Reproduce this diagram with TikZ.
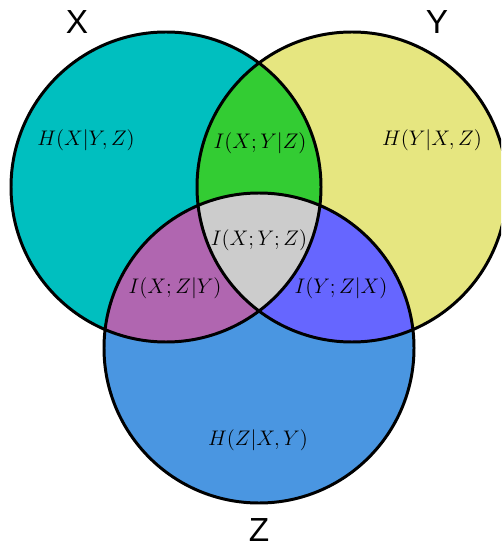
\documentclass[tikz,border=0pt]{standalone}
\usepackage{fontspec}
\setsansfont{Liberation Sans}
\usepackage{tikz}

\definecolor{onlyX}{RGB}{0,191,191}
\definecolor{onlyY}{RGB}{230,230,128}
\definecolor{onlyZ}{RGB}{74,150,225}
\definecolor{XandY}{RGB}{51,204,51}
\definecolor{XandZ}{RGB}{176,102,176}
\definecolor{YandZ}{RGB}{102,102,255}
\definecolor{allXYZ}{RGB}{204,204,204}

\tikzset{
  setlabel/.style={font=\fontsize{19}{22}\selectfont\sffamily},
  infolabel/.style={font=\large},
  outline/.style={draw=black,line width=1.7pt}
}

\begin{document}
\begin{tikzpicture}[x=0.02cm,y=-0.02cm]
    \useasboundingbox (0,0) rectangle (501,550);
    \clip (0,0) rectangle (501,550);
    \def\rad{155}
    \coordinate (cx) at (166,187);
    \coordinate (cy) at (352,187);
    \coordinate (cz) at (259,348);

    % one colour per circle first
    \fill[onlyX] (cx) circle[radius=\rad];
    \fill[onlyY] (cy) circle[radius=\rad];
    \fill[onlyZ] (cz) circle[radius=\rad];

    % pairwise overlaps
    \begin{scope}
      \clip (cx) circle[radius=\rad];
      \fill[XandY] (cy) circle[radius=\rad];
      \fill[XandZ] (cz) circle[radius=\rad];
    \end{scope}
    \begin{scope}
      \clip (cy) circle[radius=\rad];
      \fill[YandZ] (cz) circle[radius=\rad];
    \end{scope}

    % common part of all three
    \begin{scope}
      \clip (cx) circle[radius=\rad];
      \clip (cy) circle[radius=\rad];
      \fill[allXYZ] (cz) circle[radius=\rad];
    \end{scope}

    \draw[outline] (cx) circle[radius=\rad];
    \draw[outline] (cy) circle[radius=\rad];
    \draw[outline] (cz) circle[radius=\rad];

    \node[setlabel] (labX) at (77,22) {X};
    \node[setlabel] (labY) at (437,22) {Y};
    \node[setlabel] (labZ) at (259,530) {Z};

    \node[infolabel] (hx) at (86,140) {$H(X|Y,Z)$};
    \node[infolabel] (hy) at (432,140) {$H(Y|X,Z)$};
    \node[infolabel] (hz) at (258,440) {$H(Z|X,Y)$};
    \node[infolabel] (ixy) at (260,143) {$I(X;Y|Z)$};
    \node[infolabel] (ixz) at (175,288) {$I(X;Z|Y)$};
    \node[infolabel] (iyz) at (341,288) {$I(Y;Z|X)$};
    \node[infolabel] (ixyz) at (259,240) {$I(X;Y;Z)$};
\end{tikzpicture}
\end{document}
